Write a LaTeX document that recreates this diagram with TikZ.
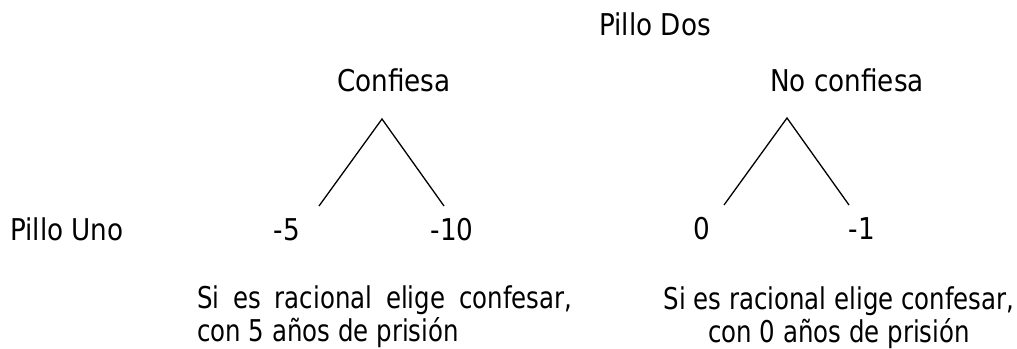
\documentclass[tikz,border=0pt]{standalone}
\usepackage{fontspec}
\setmainfont[FakeStretch=0.875]{DejaVu Sans}
\newfontfamily\parafont[FakeStretch=0.815]{DejaVu Sans}
\begin{document}
\begin{tikzpicture}[x=1pt,y=-1pt,
  lbl/.style={inner sep=0pt,font=\fontsize{30}{36}\selectfont},
  para/.style={inner sep=0pt,font=\parafont\fontsize{30}{36}\selectfont},
  branch/.style={line width=1.3pt}]
\useasboundingbox (0,0) rectangle (1017,348);
\node[lbl,anchor=base] (p2) at (655,35) {Pillo Dos};
\node[lbl,anchor=base] (c1) at (394,91) {Confiesa};
\node[lbl,anchor=base] (c2) at (847,91) {No confiesa};
\node[lbl,anchor=base west] (p1) at (10,240) {Pillo Uno};
\coordinate (a1) at (382,119);
\coordinate (l1) at (319,206);
\coordinate (r1) at (444,206);
\coordinate (a2) at (787,118);
\coordinate (l2) at (724,205);
\coordinate (r2) at (849,205);
\draw[branch] (l1) -- (a1) -- (r1);
\draw[branch] (l2) -- (a2) -- (r2);
\node[lbl,anchor=base] (v1) at (287,240) {-5};
\node[lbl,anchor=base] (v2) at (452,240) {-10};
\node[lbl,anchor=base] (v3) at (702,239) {0};
\node[lbl,anchor=base] (v4) at (862,239) {-1};
\node[para,anchor=base west] (t1a) at (197,308) {\makebox[375pt][s]{Si es racional elige confesar,}};
\node[para,anchor=base west] (t1b) at (197,341) {con 5 años de prisión};
\node[para,anchor=base] (t2a) at (839,309) {Si es racional elige confesar,};
\node[para,anchor=base] (t2b) at (839,342) {con 0 años de prisión};
\end{tikzpicture}
\end{document}
